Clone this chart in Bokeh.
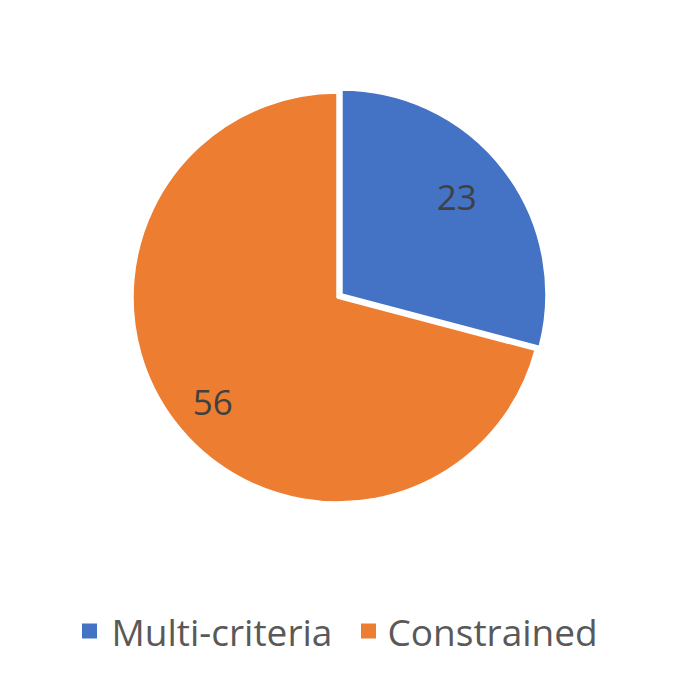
import math
from bokeh.plotting import figure
from bokeh.models import Range1d
from bokeh.core.properties import value
from bokeh.embed import file_html
from bokeh.resources import INLINE

categories = ["Multi-criteria", "Constrained"]
counts = [23, 56]
colors = ["#4472C4", "#ED7D31"]

W, H = 659, 682
PH = 698
p = figure(width=W, height=H, output_backend="svg", toolbar_location=None,
           x_range=Range1d(0, W), y_range=Range1d(PH - H, PH),
           min_border=0, outline_line_color=None, background_fill_color="white")
p.axis.visible = False
p.grid.visible = False

def Y(py):
    return PH - py

cx, cy = 337, Y(297)
R = 205
explode = [5, 0]
label_r = [0.735, 0.795]
total = sum(counts)
start = math.pi / 2
for i, (cat, c) in enumerate(zip(categories, counts)):
    sweep = 2 * math.pi * c / total
    end = start - sweep
    mid = (start + end) / 2
    ox = cx + explode[i] * math.cos(mid)
    oy = cy + explode[i] * math.sin(mid)
    p.wedge(x=[ox], y=[oy], radius=R, start_angle=[end], end_angle=[start],
            direction="anticlock", fill_color=colors[i], line_color="white", line_width=2.5)
    lr = R * label_r[i]
    la = mid + math.radians(2.5)
    p.text(x=[ox + lr * math.cos(la)], y=[oy + lr * math.sin(la)], text=[str(c)],
           text_align="center", text_baseline="middle", text_font=value("Open Sans"),
           text_font_size="35px", text_color="#404040")
    start = end

# legend
leg_sq_x = [89, 368]
leg_tx_x = [111, 387]
for i, cat in enumerate(categories):
    p.scatter(x=[leg_sq_x[i]], y=[Y(630.5)], marker="square", size=15,
              fill_color=colors[i], line_color=None)
    p.text(x=[leg_tx_x[i]], y=[Y(630.5)], text=[cat], text_align="left",
           text_baseline="middle", text_font=value("Open Sans"),
           text_font_size="37px", text_color="#595959")

open("out.html", "w").write(file_html(p, INLINE))
